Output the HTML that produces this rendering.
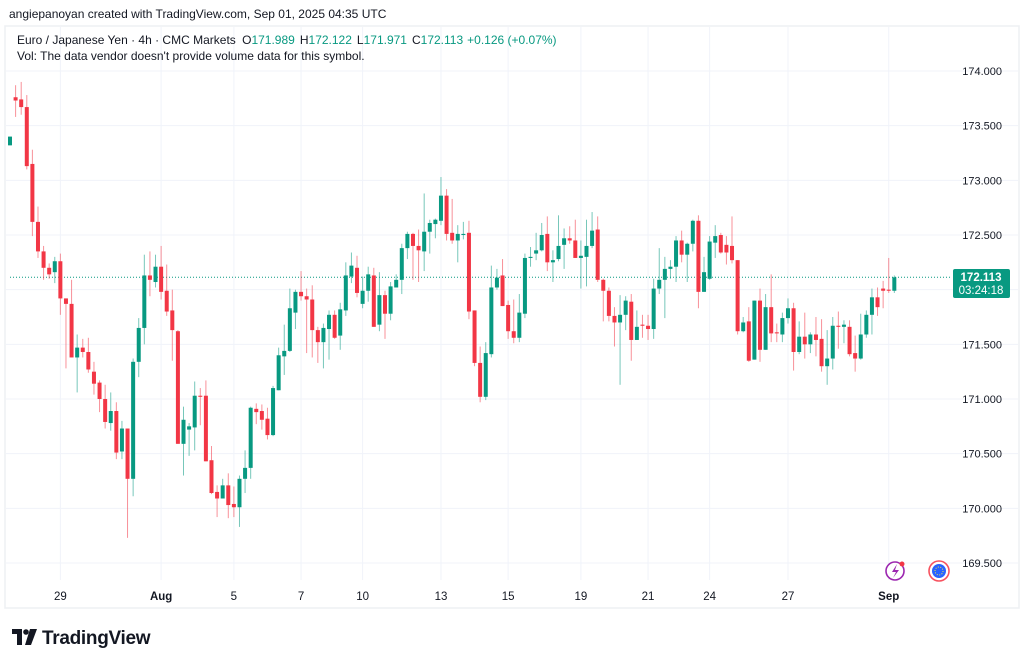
<!DOCTYPE html>
<html><head><meta charset="utf-8"><style>
html,body{margin:0;padding:0;background:#fff;width:1024px;height:665px;overflow:hidden}
svg{display:block;font-family:"Liberation Sans",sans-serif}
</style></head><body>
<svg id="chart" width="1024" height="665" viewBox="0 0 1024 665">
<rect x="0" y="0" width="1024" height="665" fill="#fff"/>
<text x="9" y="18" font-size="12" fill="#131722">angiepanoyan created with TradingView.com, Sep 01, 2025 04:35 UTC</text>
<rect x="5" y="26" width="1014" height="582" fill="none" stroke="#eef0f3" stroke-width="1.5"/>
<g id="grid"></g>
<line id="lastline" x1="10" x2="950" stroke="#089981" stroke-width="1" stroke-dasharray="1,2"/>
<g id="candles"></g>
<g id="yaxis"></g>
<g id="xaxis"></g>
<text x="17" y="44" font-size="12" fill="#131722">Euro / Japanese Yen · 4h · CMC Markets <tspan dx="3">O</tspan><tspan fill="#089981">171.989</tspan><tspan dx="5">H</tspan><tspan fill="#089981">172.122</tspan><tspan dx="5">L</tspan><tspan fill="#089981">171.971</tspan><tspan dx="5">C</tspan><tspan fill="#089981">172.113</tspan><tspan dx="4" fill="#089981">+0.126 (+0.07%)</tspan></text>
<text x="17" y="60" font-size="12" fill="#131722">Vol: The data vendor doesn't provide volume data for this symbol.</text>
<g id="lastlabel">
<rect x="953" y="269" width="57" height="29" rx="2" fill="#089981"/>
<text id="lastprice" x="981" y="281" font-size="11.5" fill="#fff" text-anchor="middle" font-weight="bold">172.113</text>
<text x="981" y="294" font-size="11.5" fill="#fff" text-anchor="middle">03:24:18</text>
</g>
<g><circle cx="895" cy="571" r="9" fill="#fff" stroke="#9c27b0" stroke-width="1.6"/><path d="M897 564 L892 572 L896 572 L893 578 L899 570 L895 570 Z" fill="#9c27b0"/><circle cx="902" cy="564" r="2.5" fill="#f23645"/></g>
<g><circle cx="939" cy="571" r="10" fill="#fff" stroke="#f7525f" stroke-width="1.6"/><circle cx="939" cy="571" r="7" fill="#2962ff"/><circle cx="939" cy="571" r="4" fill="none" stroke="#ffeb3b" stroke-width="1" stroke-dasharray="1,1.5"/></g>
<g>
<path d="M12 629 H22 V645 H17 V634 H12 Z" fill="#131722"/><circle cx="26" cy="632" r="2.8" fill="#131722"/><path d="M30 629 H37 L31 645 H25 Z" fill="#131722"/>
<text x="42" y="644" font-size="19" font-weight="bold" fill="#131722" letter-spacing="-0.3">TradingView</text>
</g>
</svg>
<script>
const opens=[173.32,173.76,173.74,173.67,173.15,172.62,172.35,172.20,172.16,172.26,171.92,171.87,171.38,171.47,171.43,171.25,171.15,171.00,170.78,170.89,170.52,170.73,170.27,171.34,171.65,172.13,172.07,172.21,171.99,171.81,171.62,170.59,170.72,170.74,171.03,171.03,170.44,170.15,170.09,170.21,170.04,170.01,170.27,170.37,170.91,170.89,170.82,170.67,171.08,171.39,171.44,171.79,171.98,171.94,171.91,171.63,171.52,171.64,171.77,171.58,171.81,172.12,172.20,171.87,171.99,172.13,171.68,171.95,171.78,172.02,172.09,172.38,172.51,172.40,172.35,172.53,172.60,172.63,172.86,172.52,172.45,172.50,172.52,171.81,171.33,171.02,171.41,172.02,172.13,171.86,171.62,171.56,171.78,172.29,172.33,172.36,172.51,172.25,172.28,172.41,172.47,172.45,172.29,172.30,172.40,172.55,172.09,171.99,171.76,171.70,171.77,171.89,171.54,171.68,171.67,171.64,172.01,172.09,172.19,172.21,172.45,172.32,172.42,172.63,171.98,172.10,172.43,172.50,172.41,172.40,172.27,171.62,171.71,171.36,171.90,171.45,171.84,171.61,171.59,171.74,171.83,171.43,171.57,171.50,171.59,171.55,171.30,171.37,171.67,171.66,171.66,171.42,171.37,171.59,171.77,171.93,172.01,172.00,171.99];
const highs=[173.40,173.87,173.90,173.78,173.28,172.76,172.40,172.24,172.30,172.33,171.92,172.09,171.59,171.55,171.56,171.34,171.17,171.13,171.06,170.97,170.80,170.73,171.37,171.74,172.32,172.35,172.32,172.40,172.23,172.00,171.63,170.93,170.78,171.16,171.10,171.17,170.57,170.21,170.27,170.32,170.20,170.30,170.53,170.93,170.96,170.95,170.92,171.12,171.47,171.68,172.01,172.00,172.17,172.01,172.04,171.66,171.69,171.81,171.81,171.88,172.25,172.34,172.31,172.12,172.21,172.20,172.16,171.99,172.07,172.14,172.42,172.53,172.52,172.55,172.88,172.64,172.65,173.03,172.92,172.83,172.59,172.62,172.63,171.81,171.48,171.52,172.22,172.19,172.28,171.90,171.91,171.96,172.33,172.39,172.52,172.61,172.67,172.36,172.68,172.56,172.58,172.64,172.45,172.64,172.71,172.67,172.10,172.02,171.84,171.95,171.94,171.96,171.81,171.77,171.77,172.10,172.38,172.30,172.27,172.49,172.54,172.43,172.64,172.68,172.30,172.49,172.59,172.52,172.49,172.67,172.27,171.75,171.84,171.90,172.01,171.96,172.14,171.69,171.79,171.92,171.88,171.71,171.79,171.61,171.75,171.73,171.63,171.75,171.80,171.72,171.72,171.58,171.78,171.81,172.01,172.02,172.08,172.29,172.13];
const lows=[173.32,173.58,173.60,173.10,172.49,172.29,172.09,172.10,172.06,171.77,171.28,171.38,171.06,171.38,171.24,171.04,170.88,170.73,170.71,170.45,170.45,169.73,170.11,171.20,171.50,171.94,172.02,171.91,171.76,171.35,170.59,170.30,170.48,170.53,170.76,170.43,170.13,169.92,170.09,169.91,169.92,169.83,170.14,170.27,170.77,170.72,170.63,170.66,171.08,171.22,171.43,171.64,171.90,171.42,171.38,171.33,171.28,171.36,171.55,171.45,171.76,172.06,171.93,171.83,171.89,171.66,171.62,171.55,171.72,172.02,171.96,172.28,172.09,172.07,172.17,172.33,172.47,172.59,172.45,172.42,172.25,172.46,171.73,171.30,170.97,170.99,171.38,172.00,171.85,171.55,171.51,171.52,171.74,172.21,172.27,172.35,172.17,172.07,172.26,172.19,172.42,172.29,172.01,172.03,172.38,172.07,171.71,171.71,171.48,171.13,171.63,171.35,171.54,171.56,171.54,171.55,171.96,171.74,172.10,172.07,172.25,172.07,172.35,171.83,171.98,172.09,172.29,172.33,172.23,172.24,171.59,171.61,171.34,171.36,171.34,171.45,171.52,171.52,171.52,171.69,171.26,171.41,171.37,171.42,171.39,171.25,171.13,171.27,171.46,171.51,171.39,171.25,171.36,171.56,171.59,171.76,171.83,171.97,171.97];
const closes=[173.40,173.73,173.67,173.13,172.62,172.35,172.20,172.14,172.26,171.92,171.87,171.38,171.47,171.43,171.27,171.14,171.00,170.79,170.89,170.51,170.73,170.27,171.34,171.65,172.13,172.09,172.21,171.98,171.80,171.63,170.59,170.81,170.75,171.03,171.02,170.43,170.14,170.09,170.21,170.03,170.01,170.27,170.37,170.92,170.88,170.81,170.67,171.10,171.40,171.44,171.83,171.98,171.94,171.91,171.63,171.52,171.65,171.77,171.56,171.82,172.13,172.22,171.97,171.99,172.14,171.66,171.95,171.78,172.03,172.09,172.38,172.51,172.40,172.36,172.53,172.61,172.64,172.86,172.51,172.45,172.51,172.51,171.80,171.33,171.02,171.42,172.02,172.11,171.85,171.62,171.56,171.79,172.29,172.30,172.36,172.50,172.25,172.27,172.40,172.47,172.45,172.29,172.31,172.40,172.54,172.09,171.99,171.76,171.70,171.77,171.90,171.54,171.66,171.67,171.64,172.01,172.09,172.19,172.21,172.45,172.32,172.42,172.63,171.98,172.16,172.44,172.49,172.34,172.34,172.27,171.62,171.70,171.35,171.90,171.45,171.84,171.60,171.60,171.74,171.83,171.43,171.57,171.50,171.59,171.54,171.30,171.37,171.67,171.66,171.68,171.41,171.37,171.59,171.77,171.93,171.84,171.99,171.99,172.113];
const priceTicks=[174.0,173.5,173.0,172.5,172.0,171.5,171.0,170.5,170.0,169.5];
const dateLabels=["29","Aug","5","7","10","13","15","19","21","24","27","Sep"];
const dateIndex=[9,27,40,52,63,77,89,102,114,125,139,157];

const NS="http://www.w3.org/2000/svg";
function yS(p){return 71+(174-p)*109.333;}
function xS(i){return 10+i*5.597;}
function mk(tag,attrs,parent){const e=document.createElementNS(NS,tag);for(const k in attrs)e.setAttribute(k,attrs[k]);parent.appendChild(e);return e;}
const grid=document.getElementById('grid'),yaxis=document.getElementById('yaxis'),xaxis=document.getElementById('xaxis'),cg=document.getElementById('candles');
priceTicks.forEach(p=>{
  const y=yS(p);
  const l=mk('line',{x1:6,x2:1018,y1:y,y2:y,stroke:'#f0f3fa','stroke-width':1},grid);
  
  
  const t=mk('text',{x:1002,y:y+4,'font-size':11,fill:'#131722','text-anchor':'end'},yaxis);
  t.textContent=p.toFixed(3);
  
  
});
dateLabels.forEach((d,k)=>{
  const x=xS(dateIndex[k]);
  const l=mk('line',{x1:x,x2:x,y1:27,y2:580,stroke:'#f0f3fa','stroke-width':1},grid);
  
  
  const bold=(d==='Aug'||d==='Sep');
  const t=mk('text',{x:x,y:600,'font-size':11.5,fill:'#131722','text-anchor':'middle','font-weight':bold?'bold':'normal'},xaxis);
  t.textContent=d;
  
  
});
for(let i=0;i<closes.length;i++){
  const up=closes[i]>=opens[i];
  const col=up?'#089981':'#f23645';
  const x=xS(i);
  const g=mk('g',{},cg);
  
  
  mk('line',{x1:x,x2:x,y1:yS(highs[i]),y2:yS(lows[i]),stroke:col,'stroke-width':1,'stroke-opacity':0.55},g);
  const top=yS(Math.max(opens[i],closes[i])),bot=yS(Math.min(opens[i],closes[i]));
  mk('rect',{x:x-2,y:top,width:4,height:Math.max(1,bot-top),fill:col},g);
}
const last=closes[closes.length-1];
const ll=document.getElementById('lastline');ll.setAttribute('y1',yS(last));ll.setAttribute('y2',yS(last));
document.getElementById('lastprice').textContent=last.toFixed(3);
</script>
</body></html>
